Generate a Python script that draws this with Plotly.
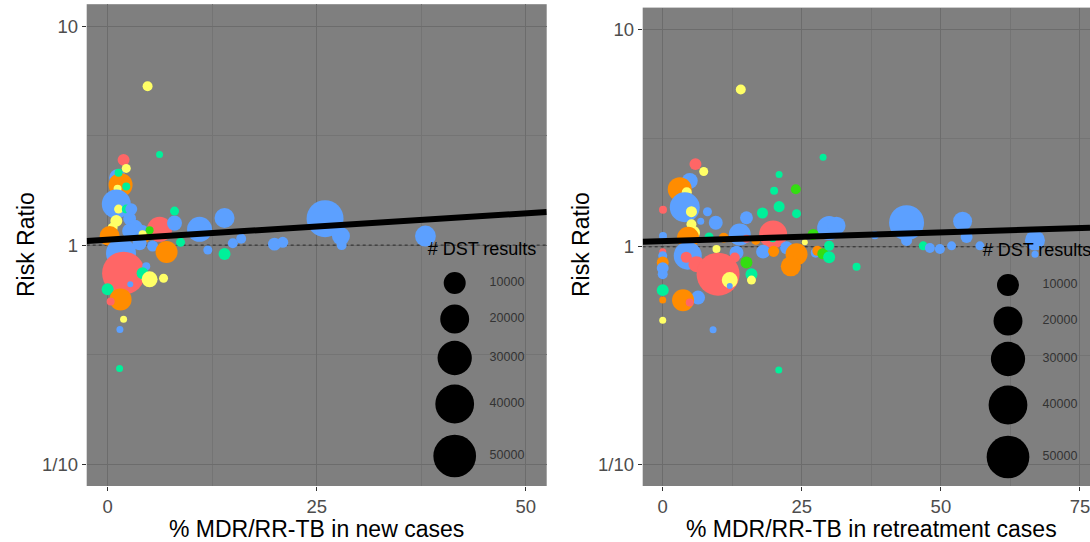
import numpy as np
import plotly.graph_objects as go

# ---------------- data ----------------
region_colors = {"r": "#FF6666", "o": "#FF8C00", "y": "#FFFF66",
                 "g": "#33DD11", "t": "#00F09A", "b": "#5CA0FF"}

# Left panel: % MDR/RR-TB in new cases
new_pct = [1.19, 1.55, 1.31, 1.19, 2.23, 1.91, 2.23, 1.04, 1.31, 2.23, 2.83, 2.63, 1.04, 3.23, 0.60,
           2.63, 4.18, 0.24, 4.42, 3.82, 6.21, 5.02, 4.18, 8.00, 8.00, 8.72, 5.38, 1.60, 7.05, 1.91,
           4.62, 4.18, 5.02, 6.69, 2.71, 0.00, 1.55, 0.36, 1.91, 1.47, 1.43, 4.78, 6.21, 10.99, 13.98,
           14.97, 15.97, 11.98, 13.98, 19.95, 20.94, 26.0, 27.9, 27.99, 38.0]
new_rr = [2.03, 1.88, 2.14, 1.81, 1.85, 2.45, 2.24, 1.54, 1.46, 1.46, 1.46, 1.32, 1.29, 1.20, 1.20,
          1.16, 1.16, 1.10, 1.08, 1.02, 1.18, 1.17, 1.12, 1.26, 1.43, 1.03, 0.99, 0.92, 0.93, 0.744,
          0.80, 0.744, 0.698, 0.706, 0.662, 0.628, 0.565, 0.553, 0.458, 0.412, 0.273, 5.31, 2.59, 1.18, 1.33,
          1.02, 1.07, 0.95, 0.91, 1.01, 1.03, 1.32, 1.10, 1.00, 1.10]
new_dst = [4900, 12500, 270, 270, 270, 1600, 500, 20100, 500, 500, 1600, 2100, 1600, 4100, 800,
           3400, 1600, 7800, 800, 2700, 13900, 270, 270, 3400, 500, 500, 1200, 21800, 10000, 50800,
           270, 1600, 4100, 500, 20, 1600, 10000, 270, 110, 110, 110, 800, 110, 13900, 7800,
           800, 800, 500, 1600, 2100, 1200, 35900, 5800, 800, 8700]
new_region = ["b", "o", "t", "y", "t", "r", "y", "b", "y", "t", "b", "b", "y", "b", "y",
              "b", "b", "o", "o", "b", "r", "g", "y", "b", "t", "t", "b", "b", "o", "r",
              "b", "t", "y", "y", "b", "t", "o", "r", "y", "b", "t", "y", "t", "b", "b",
              "b", "b", "b", "t", "b", "b", "b", "b", "b", "b"]

# Right panel: % MDR/RR-TB in retreatment cases
ret_pct = [4.86, 3.06, 4.32, 5.88, 7.37, 3.96, 0.05, 5.16, 8.04, 6.83, 9.53, 15.05, 5.16, 5.45, 4.55,
           0.05, 13.85, 8.33, 10.97, 9.66, 4.50, 0.0, 0.0, 0.0, 0.0, 0.0, 4.23, 6.06, 13.26, 12.95,
           9.95, 12.05, 12.05, 15.05, 15.95, 15.95, 15.05, 0.0, 0.0, 6.35, 3.65, 4.86, 0.0, 9.05, 14.03,
           20.86, 28.83, 20.92, 23.92, 20.02, 20.92, 17.93, 24.05, 19.84, 19.78, 16.73, 18.04, 19.93, 22.25,
           24.05, 23.02, 29.91, 31.24, 27.03, 25.54, 27.5, 27.79, 28.78, 29.91, 29.91, 34.84, 38.13, 43.83,
           43.83, 46.82, 48.02, 49.82, 51.92, 53.90, 54.62, 57.01, 66.91, 66.91]
ret_rr = [2.01, 1.84, 1.78, 2.40, 2.22, 1.52, 1.48, 1.45, 1.45, 1.31, 1.29, 1.36, 1.27, 1.16, 1.10,
          1.12, 1.14, 1.11, 1.10, 0.976, 0.91, 0.95, 0.91, 0.847, 0.798, 0.748, 0.895, 0.832, 0.94, 0.893,
          0.748, 0.703, 0.661, 0.847, 0.748, 0.703, 1.09, 0.632, 0.570, 0.584, 0.568, 0.554, 0.459, 0.415, 5.29,
          0.271, 2.58, 2.15, 1.84, 1.81, 1.53, 1.43, 1.42, 1.14, 1.09, 1.07, 0.95, 0.953, 0.99,
          0.925, 0.813, 1.22, 1.25, 1.14, 1.05, 0.94, 0.958, 0.929, 1.01, 0.895, 0.809, 1.13, 1.29,
          1.07, 1.01, 0.987, 0.976, 1.01, 1.31, 1.11, 1.01, 1.07, 0.923]
ret_dst = [4100, 12500, 800, 1600, 500, 21800, 270, 1200, 500, 110, 2700, 2100, 800, 2700, 10000,
           270, 10000, 500, 800, 270, 18450, 110, 500, 1600, 1600, 800, 1200, 4100, 2700, 800,
           50800, 4100, 20, 1600, 1600, 500, 270, 1600, 110, 2700, 10000, 270, 110, 110, 800,
           110, 110, 110, 800, 270, 1200, 1200, 500, 18450, 110, 500, 2700, 1200, 2100,
           10000, 7800, 12500, 5800, 1200, 20, 800, 800, 1200, 800, 1600, 270, 270, 31600,
           1200, 500, 800, 800, 500, 6700, 1600, 500, 7800, 110]
ret_region = ["b", "o", "y", "r", "y", "b", "r", "y", "b", "b", "b", "b", "y", "y", "o",
              "b", "b", "t", "o", "y", "b", "r", "b", "o", "b", "b", "r", "r", "b", "r",
              "r", "y", "b", "g", "t", "y", "r", "t", "o", "b", "o", "r", "y", "b", "y",
              "t", "t", "t", "g", "t", "t", "t", "t", "r", "t", "o", "b", "o", "b",
              "o", "o", "b", "b", "g", "y", "b", "o", "g", "t", "t", "t", "b", "b",
              "b", "t", "b", "b", "b", "b", "b", "b", "b", "b"]

legend_dst = [10000, 20000, 30000, 40000, 50000]

# log10(RR) = intercept + slope * pct
fit_new = {"intercept": 0.025, "slope": 0.0024}
fit_ret = {"intercept": 0.0258, "slope": 0.000805}

y_tickvals = [0.1, 1, 10]
y_ticktext = ["1/10", "1", "10"]
x_ticks_new = [0, 25, 50]
x_ticks_ret = [0, 25, 50, 75]

# ---------------- styling / layout ----------------
W, H = 1090, 542
FONT = "Liberation Sans, Arial, sans-serif"
PANEL_BG = "#7F7F7F"
GRID = "#6C6C6C"
GRID_MINOR = "#747474"

# panel pixel boxes: (left, right, top, bottom)
PL = (86.7, 546.7, 4.2, 486.0)
PR = (642.7, 1090.0, 7.6, 486.0)
XR_NEW = [-2.5, 52.5]
XR_RET = [-3.6, 76.8]
YR = [-1.1, 1.1]


def dom_x(p):
    return [p[0] / W, p[1] / W]


def dom_y(p):
    return [1 - p[3] / H, 1 - p[2] / H]


def size_px(v):
    return 5.25 + 0.1675 * np.sqrt(np.asarray(v, dtype=float))


fig = go.Figure()


def add_panel(xa, ya, pct, rr, dst, reg, fit, xr):
    # reference dotted line at RR = 1
    fig.add_trace(go.Scatter(x=xr, y=[1, 1], mode="lines", xaxis=xa, yaxis=ya,
                             line=dict(color="#2A2A2A", width=1, dash="dot"),
                             hoverinfo="skip", showlegend=False))
    fig.add_trace(go.Scatter(x=pct, y=rr, mode="markers", xaxis=xa, yaxis=ya,
                             marker=dict(size=size_px(dst), sizemode="diameter",
                                         color=[region_colors[g] for g in reg],
                                         opacity=1, line=dict(width=0)),
                             showlegend=False))
    xs = np.array(xr)
    ys = 10 ** (fit["intercept"] + fit["slope"] * xs)
    fig.add_trace(go.Scatter(x=xs, y=ys, mode="lines", xaxis=xa, yaxis=ya,
                             line=dict(color="black", width=6),
                             hoverinfo="skip", showlegend=False))


add_panel("x", "y", new_pct, new_rr, new_dst, new_region, fit_new, XR_NEW)
add_panel("x2", "y2", ret_pct, ret_rr, ret_dst, ret_region, fit_ret, XR_RET)

# size legends (drawn on pixel-scaled overlay axes)
leg_specs = [
    dict(xa="x3", ya="y3", cx=454.7, ys=[283, 319, 358, 404, 456], lx=507, tx=482, ty=251),
    dict(xa="x4", ya="y4", cx=1008.0, ys=[285, 321, 359, 405, 457], lx=1060, tx=1037, ty=252),
]
for s in leg_specs:
    fig.add_trace(go.Scatter(x=[s["cx"]] * len(legend_dst), y=s["ys"], mode="markers",
                             xaxis=s["xa"], yaxis=s["ya"],
                             marker=dict(size=size_px(legend_dst), sizemode="diameter",
                                         color="black", opacity=1, line=dict(width=0)),
                             hoverinfo="skip", showlegend=False))
    fig.add_trace(go.Scatter(x=[s["lx"]] * len(legend_dst), y=s["ys"], mode="text",
                             text=[str(v) for v in legend_dst],
                             textfont=dict(family=FONT, size=12.5, color="#333333"),
                             xaxis=s["xa"], yaxis=s["ya"], hoverinfo="skip", showlegend=False))
    fig.add_trace(go.Scatter(x=[s["tx"]], y=[s["ty"]], mode="text", text=["# DST results"],
                             textfont=dict(family=FONT, size=18, color="black"),
                             xaxis=s["xa"], yaxis=s["ya"], hoverinfo="skip", showlegend=False,
                             cliponaxis=False))

axis_common = dict(showline=False, zeroline=False, ticks="outside", ticklen=4,
                   tickcolor="#333333", tickwidth=1, showgrid=True, gridcolor=GRID, gridwidth=1,
                   tickfont=dict(family=FONT, size=18.5, color="#4D4D4D"))

fig.update_layout(
    width=W, height=H, margin=dict(l=0, r=0, t=0, b=0),
    paper_bgcolor="white", plot_bgcolor=PANEL_BG, showlegend=False,
    xaxis=dict(domain=dom_x(PL), range=XR_NEW, anchor="y", tickvals=x_ticks_new,
               minor=dict(tickvals=[12.5, 37.5], showgrid=True, gridcolor=GRID_MINOR, gridwidth=0.6, ticks=""),
               **axis_common),
    yaxis=dict(domain=dom_y(PL), type="log", range=YR, anchor="x", tickvals=y_tickvals, ticktext=y_ticktext,
               minor=dict(tickvals=[10 ** -0.5, 10 ** 0.5], showgrid=True, gridcolor=GRID_MINOR, gridwidth=0.6, ticks=""),
               **axis_common),
    xaxis2=dict(domain=dom_x(PR), range=XR_RET, anchor="y2", tickvals=x_ticks_ret,
                ticklabeloverflow="allow",
                minor=dict(tickvals=[12.5, 37.5, 62.5], showgrid=True, gridcolor=GRID_MINOR, gridwidth=0.6, ticks=""),
                **axis_common),
    yaxis2=dict(domain=dom_y(PR), type="log", range=YR, anchor="x2", tickvals=y_tickvals, ticktext=y_ticktext,
                minor=dict(tickvals=[10 ** -0.5, 10 ** 0.5], showgrid=True, gridcolor=GRID_MINOR, gridwidth=0.6, ticks=""),
                **axis_common),
    xaxis3=dict(overlaying="x", anchor="y3", range=[PL[0], PL[1]], visible=False),
    yaxis3=dict(overlaying="y", anchor="x3", range=[PL[3], PL[2]], visible=False),
    xaxis4=dict(overlaying="x2", anchor="y4", range=[PR[0], PR[1]], visible=False),
    yaxis4=dict(overlaying="y2", anchor="x4", range=[PR[3], PR[2]], visible=False),
)

# legend key backgrounds (cover gridlines behind the keys)
for (x0, x1, y0, y1) in [(432, 477, 262, 479), (985, 1031, 264, 479)]:
    fig.add_shape(type="rect", xref="paper", yref="paper", x0=x0 / W, x1=x1 / W,
                  y0=1 - y1 / H, y1=1 - y0 / H, fillcolor=PANEL_BG, line=dict(width=0), layer="between")

# axis titles
title_font = dict(family=FONT, size=23, color="black")
for txt, px, py in [("% MDR/RR-TB in new cases", 316.7, 528.5), ("% MDR/RR-TB in retreatment cases", 871, 528.5)]:
    fig.add_annotation(text=txt, x=px / W, y=1 - py / H, xref="paper", yref="paper",
                       showarrow=False, font=title_font, xanchor="center", yanchor="middle")
for px in [26, 581]:
    fig.add_annotation(text="Risk Ratio", x=px / W, y=1 - 245 / H, xref="paper", yref="paper",
                       showarrow=False, font=title_font, textangle=-90, xanchor="center", yanchor="middle")

fig.write_html("out.html", config={"displayModeBar": False},
               post_script="document.body.style.margin='0px';document.body.style.overflow='hidden';")
